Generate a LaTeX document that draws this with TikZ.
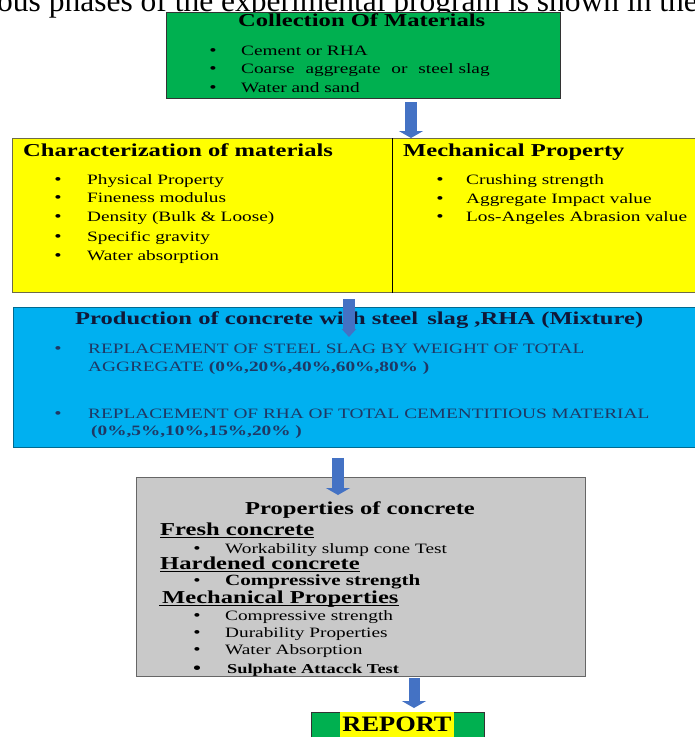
\documentclass[tikz,border=0pt]{standalone}
\usepackage{fontspec}
\setmainfont{Liberation Serif}[FakeStretch=1.35]
\newfontfamily\pagefont{Liberation Serif}
\newfontfamily\reportfont{Liberation Serif}[FakeStretch=1.2]
\usetikzlibrary{arrows.meta}
\definecolor{boxgreen}{RGB}{0,176,80}
\definecolor{boxyellow}{RGB}{255,255,0}
\definecolor{boxblue}{RGB}{0,176,240}
\definecolor{boxgray}{RGB}{201,201,201}
\definecolor{arrowblue}{RGB}{68,114,196}
\definecolor{navy}{RGB}{31,56,100}
\definecolor{darknavy}{RGB}{16,24,56}
\begin{document}
\begin{tikzpicture}[
  x=1pt, y=-1pt,
  box/.style={draw, anchor=north west, inner sep=0pt},
  head/.style={font=\fontsize{18.2}{20}\selectfont\bfseries, inner sep=0pt, anchor=base west},
  item/.style={font=\fontsize{14.3}{16}\selectfont, inner sep=0pt, anchor=base west},
  dot/.style={font=\fontsize{15.5}{16}\selectfont, inner sep=0pt, anchor=base},
  flow/.style={draw=arrowblue, line width=12pt, -{Triangle[width=24pt,length=7pt]}}
]
\useasboundingbox (0,0) rectangle (695,737);
\fill [white] (0,0) rectangle (695,737);

\node [anchor=base west, inner sep=0pt, font=\pagefont\fontsize{31.5}{33}\selectfont] (pagetext) at (-3,11) {ous phases of the experimental program is shown in the};

% boxes
\node [box, fill=boxgreen, draw=black!80, line width=1pt, minimum width=394pt, minimum height=86pt] (collect) at (166,12) {};
\node [box, fill=boxyellow, draw=yellow!35!black, line width=1.2pt, minimum width=380pt, minimum height=154pt] (charac) at (12,138) {};
\node [box, fill=boxyellow, draw=yellow!35!black, line width=1.2pt, minimum width=320pt, minimum height=154pt] (mechprop) at (392,138) {};
\draw [black, line width=1pt] (mechprop.north west) -- (mechprop.south west);
\node [box, fill=boxblue, draw=boxblue!60!black, line width=0.8pt, minimum width=700pt, minimum height=140pt] (mixture) at (13,307) {};
\node [box, fill=boxgray, draw=black!60, line width=1pt, minimum width=449pt, minimum height=199pt] (concrete) at (136,477) {};
\node [box, fill=boxgreen, draw=black!80, line width=1pt, minimum width=173pt, minimum height=40pt] (report) at (311,712) {};

% collection
\node [head] (collecttitle) at (238,26) {Collection Of Materials};
\foreach \y/\t [count=\i] in {55/Cement or RHA, 73/Coarse\hspace{6pt} aggregate\hspace{6pt} or\hspace{6pt} steel slag, 92/Water and sand} {
  \node [dot] (collectdot\i) at (213,\y) {\textbullet};
  \node [item] (collectitem\i) at (241,\y) {\t};
}

% characterization and mechanical property
\node [head] (charactitle) at (23,156) {Characterization of materials};
\foreach \y/\t [count=\i] in {184/Physical Property, 202/Fineness modulus, 221/Density (Bulk \& Loose), 241/Specific gravity, 260/Water absorption} {
  \node [dot] (characdot\i) at (58,\y) {\textbullet};
  \node [item] (characitem\i) at (87,\y) {\t};
}
\node [head] (mechtitle) at (403,156) {Mechanical Property};
\foreach \y/\t [count=\i] in {184/Crushing strength, 203/Aggregate Impact value, 221/Los-Angeles Abrasion value} {
  \node [dot] (mechdot\i) at (440,\y) {\textbullet};
  \node [item] (mechitem\i) at (466,\y) {\t};
}

% mixture
\node [head, text=darknavy] (mixtitle) at (75,324) {Production of concrete with steel\hspace{3pt} slag ,RHA (Mixture)};
\node [dot, text=navy] (mixdot1) at (58,353) {\textbullet};
\node [item, text=navy] (mixitem1) at (88,353) {REPLACEMENT OF STEEL SLAG BY WEIGHT OF TOTAL};
\node [item, text=navy] (mixitem2) at (88,371) {AGGREGATE \textbf{(0\%,20\%,40\%,60\%,80\% )}};
\node [dot, text=navy] (mixdot2) at (58,418) {\textbullet};
\node [item, text=navy] (mixitem3) at (88,418) {REPLACEMENT OF RHA OF TOTAL CEMENTITIOUS MATERIAL};
\node [item, text=navy] (mixitem4) at (91,435) {\textbf{(0\%,5\%,10\%,15\%,20\% )}};

% properties of concrete
\node [head] (proptitle) at (245,514) {Properties of concrete};
\node [head] (fresh) at (160,535) {Fresh concrete};
\draw [line width=1.3pt] ([yshift=-2.5pt]fresh.base west) -- ([yshift=-2.5pt]fresh.base east);
\node [dot] (freshdot) at (197,553) {\textbullet};
\node [item] (freshitem) at (225,553) {Workability slump cone Test};
\node [head] (hard) at (160,569) {Hardened concrete};
\draw [line width=1.3pt] ([yshift=-2.5pt]hard.base west) -- ([yshift=-2.5pt]hard.base east);
\node [dot] (harddot) at (197,585) {\textbullet};
\node [item, font=\fontsize{15.6}{17}\selectfont\bfseries] (harditem) at (225,585) {Compressive strength};
\node [head] (mech) at (162,603) {Mechanical Properties};
\draw [line width=1.3pt] ([xshift=-3pt,yshift=-2.5pt]mech.base west) -- ([yshift=-2.5pt]mech.base east);
\foreach \y/\t [count=\i] in {620/Compressive strength, 637/Durability Properties, 654/Water Absorption} {
  \node [dot] (mechpropdot\i) at (197,\y) {\textbullet};
  \node [item] (mechpropitem\i) at (225,\y) {\t};
}
\node [dot, font=\fontsize{19}{19}\selectfont] (sulphdot) at (197,674) {\textbullet};
\node [item, font=\fontsize{13.6}{15}\selectfont\bfseries] (sulphitem) at (227,673) {Sulphate Attacck Test};

% report
\node [anchor=base, fill=boxyellow, inner xsep=2.5pt, inner ysep=3pt, text height=16pt, text depth=8pt, font=\reportfont\bfseries\fontsize{22}{24}\selectfont] (reporttext) at (397,731) {REPORT};

% arrows
\coordinate (a1) at (411,0);
\coordinate (a2) at (349,0);
\coordinate (a3) at (338,0);
\coordinate (a4) at (414,0);
\draw [flow, shorten <=3pt] (collect.south -| a1) -- (mechprop.north -| a1);
\draw [flow, -{Triangle[width=14pt,length=8pt]}, shorten <=6pt, shorten >=-30pt] (charac.south -| a2) -- (mixture.north -| a2);
\draw [flow, shorten <=10pt, shorten >=-18pt] (mixture.south -| a3) -- (concrete.north -| a3);
\draw [flow, line width=11pt, shorten <=1pt, shorten >=4pt] (concrete.south -| a4) -- (report.north -| a4);
\end{tikzpicture}
\end{document}
